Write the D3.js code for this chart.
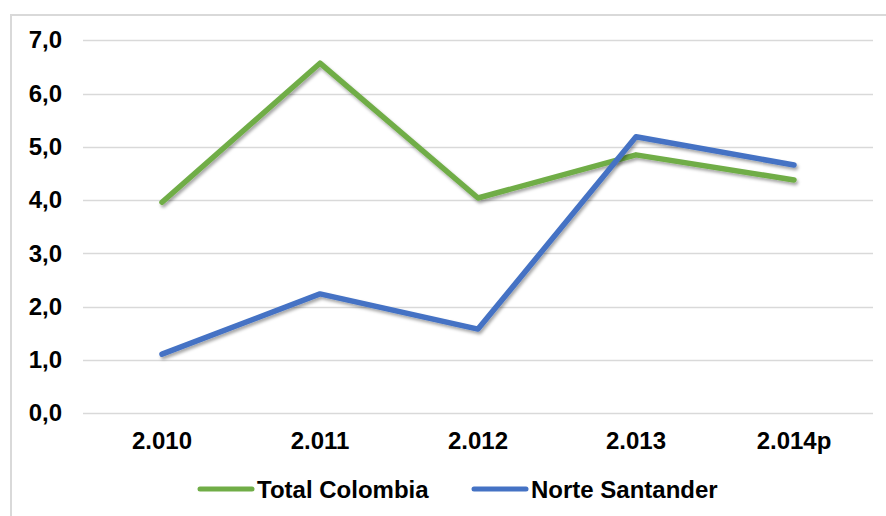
<!DOCTYPE html>
<html>
<head>
<meta charset="utf-8">
<script src="https://cdn.jsdelivr.net/npm/d3@7"></script>
<style>
  body { margin: 0; background: #fff; }
  text { font-family: Arial, "Liberation Sans", sans-serif; font-weight: bold; fill: #000; }
</style>
</head>
<body>
<div id="chart"></div>
<script>
// data
var years = ['2.010', '2.011', '2.012', '2.013', '2.014p'];
var totalColombia = [3.96, 6.57, 4.04, 4.85, 4.38];
var norteSantander = [1.11, 2.24, 1.58, 5.19, 4.66];
var yTicks = [0, 1, 2, 3, 4, 5, 6, 7];

var series = [
  { name: 'Total Colombia', values: totalColombia, color: '#70AD47' },
  { name: 'Norte Santander', values: norteSantander, color: '#4472C4' }
];

var W = 886, H = 516;
var svg = d3.select('#chart').append('svg')
  .attr('width', W)
  .attr('height', H);

var defs = svg.append('defs');
var f = defs.append('filter').attr('id', 'shadow')
  .attr('x', '-10%').attr('y', '-10%').attr('width', '120%').attr('height', '130%');
f.append('feDropShadow')
  .attr('dx', 1.5).attr('dy', 2.5)
  .attr('stdDeviation', 1.5)
  .attr('flood-color', '#000')
  .attr('flood-opacity', 0.35);

// outer frame (runs off the right and bottom edges)
svg.append('rect')
  .attr('x', 11).attr('y', 15)
  .attr('width', W).attr('height', H)
  .attr('fill', 'none')
  .attr('stroke', '#d9d9d9')
  .attr('stroke-width', 2);

var x = d3.scaleBand().domain(years).range([83, 873]);
var y = d3.scaleLinear().domain([0, 7]).range([413.3, 40.3]);

// gridlines
svg.append('g').selectAll('line')
  .data(yTicks)
  .enter().append('line')
    .attr('x1', 83)
    .attr('x2', 873)
    .attr('y1', function(d) { return Math.round(y(d)) + 0.5; })
    .attr('y2', function(d) { return Math.round(y(d)) + 0.5; })
    .attr('stroke', '#d9d9d9')
    .attr('stroke-width', 1.3);

// y axis labels
var yAxis = d3.axisLeft(y)
  .tickValues(yTicks)
  .tickSize(0)
  .tickPadding(0)
  .tickFormat(function(d) { return d3.format('.1f')(d).replace('.', ','); });
var gy = svg.append('g').attr('transform', 'translate(62,0)').call(yAxis);
gy.select('.domain').remove();
gy.selectAll('text').attr('font-size', 24).attr('font-family', null);

// x axis labels
var xAxis = d3.axisBottom(x).tickSize(0).tickPadding(0);
var gx = svg.append('g').attr('transform', 'translate(0,432)').call(xAxis);
gx.select('.domain').remove();
gx.selectAll('text').attr('font-size', 24).attr('font-family', null).attr('dy', '0.71em');

// lines
var line = d3.line()
  .x(function(d, i) { return x(years[i]) + x.bandwidth() / 2; })
  .y(function(d) { return y(d); });

svg.selectAll('path.series')
  .data(series)
  .enter().append('path')
    .attr('class', 'series')
    .attr('d', function(d) { return line(d.values); })
    .attr('fill', 'none')
    .attr('stroke', function(d) { return d.color; })
    .attr('stroke-width', 5.5)
    .attr('stroke-linejoin', 'round')
    .attr('stroke-linecap', 'round')
    .attr('filter', 'url(#shadow)');

// legend
var legendX = [200, 474];
var lg = svg.append('g').selectAll('g')
  .data(series)
  .enter().append('g')
    .attr('transform', function(d, i) { return 'translate(' + legendX[i] + ',489)'; });
lg.append('line')
  .attr('x1', 0).attr('x2', 52)
  .attr('stroke', function(d) { return d.color; })
  .attr('stroke-width', 5)
  .attr('stroke-linecap', 'round');
lg.append('text')
  .attr('x', 57)
  .attr('dy', '0.36em')
  .attr('font-size', 24)
  .text(function(d) { return d.name; });
</script>
</body>
</html>
